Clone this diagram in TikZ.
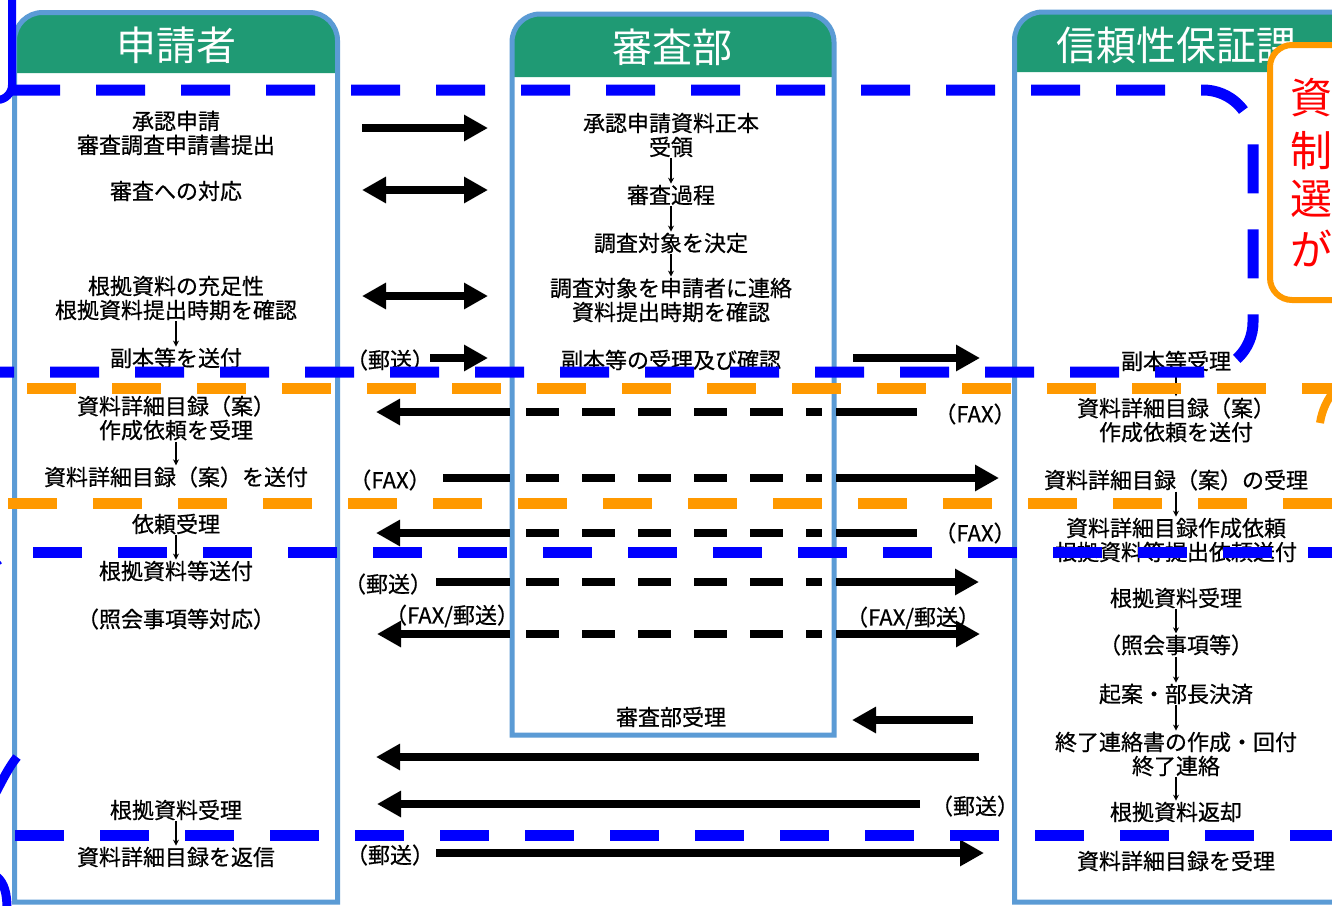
\documentclass[tikz,border=0pt]{standalone}
\usepackage{fontspec}
\setmainfont{Noto Sans CJK JP}
\newfontfamily\bodyfont[FakeBold=0.6]{Noto Sans CJK JP}
\usetikzlibrary{arrows.meta}
\definecolor{hdr}{HTML}{1F9A74}
\definecolor{bord}{HTML}{5B9BD5}
\definecolor{pureblue}{HTML}{0000FF}
\definecolor{orng}{HTML}{FF9900}
\definecolor{redtxt}{HTML}{FF0000}
\begin{document}
\begin{tikzpicture}[x=1pt,y=-1pt,
  box/.style={draw=bord, line width=5pt},
  hdrtxt/.style={text=white, font=\fontsize{40}{44}\selectfont, inner sep=0pt},
  txt/.style={font=\bodyfont\fontsize{22}{24}\selectfont, align=center, inner sep=0pt},
  lbl/.style={font=\bodyfont\fontsize{22}{24}\selectfont, inner sep=0pt},
  fatR/.style={line width=8pt, -{Triangle[length=24pt,width=25pt]}},
  fatLR/.style={line width=8pt, {Triangle[length=24pt,width=25pt]}-{Triangle[length=24pt,width=25pt]}},
  fatline/.style={line width=8pt},
  fatdash/.style={line width=8pt, dash pattern=on 33pt off 23pt},
  down/.style={line width=1.3pt, -{Stealth[length=6pt,width=6pt]}, shorten <=1pt, shorten >=1pt},
  bluedash/.style={draw=pureblue, line width=11pt, dash pattern=on 49pt off 36pt},
  orangedash/.style={draw=orng, line width=11pt, dash pattern=on 49pt off 36pt},
  redch/.style={anchor=west, text=redtxt, font=\fontsize{42}{50}\selectfont, inner sep=0pt}]
\useasboundingbox (0,0) rectangle (1332,905);
\fill[white] (0,0) rectangle (1332,905);

% column boxes
\fill[hdr] (14.5,73) [rounded corners=28pt] -- (14.5,12.5) -- (337.5,12.5) [sharp corners] -- (337.5,73) -- cycle;
\draw[box] (14.5,902) [rounded corners=28pt] -- (14.5,12.5) -- (337.5,12.5) [sharp corners] -- (337.5,902) -- cycle;
\fill[hdr] (512,77) [rounded corners=28pt] -- (512,14) -- (834,14) [sharp corners] -- (834,77) -- cycle;
\draw[box] (512,735) [rounded corners=28pt] -- (512,14) -- (834,14) [sharp corners] -- (834,735) -- cycle;
\fill[hdr] (1014.5,72) [rounded corners=28pt] -- (1014.5,12) -- (1380,12) [sharp corners] -- (1380,72) -- cycle;
\draw[box] (1014.5,902) [rounded corners=28pt] -- (1014.5,12) -- (1380,12) [sharp corners] -- (1380,902) -- cycle;

\node[hdrtxt] (hL) at (176,45) {申請者};
\node[hdrtxt] (hM) at (672,47) {審査部};
\node[hdrtxt] (hR) at (1176,45) {信頼性保証課};

% orange note box
\draw[draw=orng, line width=6pt, fill=white, rounded corners=22pt] (1270,45) rectangle (1390,300);
\node[redch] (r1) at (1290,98) {資};
\node[redch] (r2) at (1290,151) {制};
\node[redch] (r3) at (1290,199) {選};
\node[redch] (r4) at (1290,248) {が};

% left column
\node[txt] (L1) at (176,133) {承認申請\\審査調査申請書提出};
\node[txt] (L2) at (176,191) {審査への対応};
\node[txt] (L3) at (176,298) {根拠資料の充足性\\根拠資料提出時期を確認};
\node[txt] (L4) at (176,358) {副本等を送付};
\node[txt] (L5) at (176,418) {資料詳細目録（案）\\作成依頼を受理};
\node[txt] (L6) at (176,477) {資料詳細目録（案）を送付};
\node[txt] (L7) at (176,524) {依頼受理};
\node[txt] (L8) at (176,571) {根拠資料等送付};
\node[txt] (L9) at (176,619) {（照会事項等対応）};
\node[txt] (L10) at (176,810) {根拠資料受理};
\node[txt] (L11) at (176,857) {資料詳細目録を返信};
\draw[down] (L3) -- (L4);
\draw[down] (L5) -- (L6);
\draw[down] (L7) -- (L8);
\draw[down] (L10) -- (L11);

% middle column
\node[txt] (M1) at (671,135) {承認申請資料正本\\受領};
\node[txt] (M2) at (671,195) {審査過程};
\node[txt] (M3) at (671,243) {調査対象を決定};
\node[txt] (M4) at (671,300) {調査対象を申請者に連絡\\資料提出時期を確認};
\node[txt] (M5) at (671,360) {副本等の受理及び確認};
\node[txt] (M6) at (671,717) {審査部受理};
\draw[down] (M1) -- (M2);
\draw[down] (M2) -- (M3);
\draw[down] (M3) -- (M4);

% right column
\node[txt] (R1) at (1176,361) {副本等受理};
\node[txt] (R2) at (1176,420) {資料詳細目録（案）\\作成依頼を送付};
\node[txt] (R3) at (1176,480) {資料詳細目録（案）の受理};
\node[txt] (R4) at (1176,540) {資料詳細目録作成依頼\\根拠資料等提出依頼送付};
\node[txt] (R5) at (1176,598) {根拠資料受理};
\node[txt] (R6) at (1176,645) {（照会事項等）};
\node[txt] (R7) at (1176,694) {起案・部長決済};
\node[txt] (R8) at (1176,754) {終了連絡書の作成・回付\\終了連絡};
\node[txt] (R9) at (1176,812) {根拠資料返却};
\node[txt] (R10) at (1176,861) {資料詳細目録を受理};
\draw[down] (R1) -- (R2);
\draw[down] (R3) -- (R4);
\draw[down] (R5) -- (R6);
\draw[down] (R6) -- (R7);
\draw[down] (R7) -- (R8);
\draw[down] (R8) -- (R9);

% labels
\node[lbl] (p1) at (390,360) {（郵送）};
\node[lbl] (f1) at (975,414) {（FAX）};
\node[lbl] (f2) at (390,480) {（FAX）};
\node[lbl] (f3) at (975,533) {（FAX）};
\node[lbl] (p2) at (388,584) {（郵送）};
\node[lbl] (fp1) at (452,616) {（FAX/郵送）};
\node[lbl] (fp2) at (913,618) {（FAX/郵送）};
\node[lbl] (p3) at (975,806) {（郵送）};
\node[lbl] (p4) at (390,855) {（郵送）};

% arrows
\coordinate (a1s) at (362,128); \coordinate (a1e) at (488,128);
\draw[fatR] (a1s) -- (a1e);
\coordinate (a2s) at (362,190); \coordinate (a2e) at (488,190);
\draw[fatLR] (a2s) -- (a2e);
\coordinate (a3s) at (362,296); \coordinate (a3e) at (488,296);
\draw[fatLR] (a3s) -- (a3e);
\coordinate (a4s) at (430,358); \coordinate (a4e) at (488,358);
\draw[fatR] (a4s) -- (a4e);
\coordinate (a5s) at (853,358); \coordinate (a5e) at (980,358);
\draw[fatR] (a5s) -- (a5e);

\coordinate (e1) at (917,412); \coordinate (e2) at (836,412); \coordinate (e3) at (822,412);
\coordinate (e4) at (526,412); \coordinate (e5) at (510,412); \coordinate (e6) at (376,412);
\draw[fatline] (e1) -- (e2); \draw[fatdash] (e4) -- (e3); \draw[fatR] (e5) -- (e6);

\coordinate (g1) at (443,478); \coordinate (g2) at (510,478); \coordinate (g3) at (526,478);
\coordinate (g4) at (822,478); \coordinate (g5) at (836,478); \coordinate (g6) at (999,478);
\draw[fatline] (g1) -- (g2); \draw[fatdash] (g3) -- (g4); \draw[fatR] (g5) -- (g6);

\coordinate (h1) at (917,533); \coordinate (h2) at (836,533); \coordinate (h3) at (822,533);
\coordinate (h4) at (526,533); \coordinate (h5) at (510,533); \coordinate (h6) at (376,533);
\draw[fatline] (h1) -- (h2); \draw[fatdash] (h4) -- (h3); \draw[fatR] (h5) -- (h6);

\coordinate (i1) at (436,582); \coordinate (i2) at (510,582); \coordinate (i3) at (526,582);
\coordinate (i4) at (822,582); \coordinate (i5) at (836,582); \coordinate (i6) at (979,582);
\draw[fatline] (i1) -- (i2); \draw[fatdash] (i3) -- (i4); \draw[fatR] (i5) -- (i6);

\coordinate (j1) at (510,634); \coordinate (j2) at (377,634); \coordinate (j3) at (526,634);
\coordinate (j4) at (822,634); \coordinate (j5) at (836,634); \coordinate (j6) at (980,634);
\draw[fatR] (j1) -- (j2); \draw[fatdash] (j3) -- (j4); \draw[fatR] (j5) -- (j6);

\coordinate (k1) at (973,720); \coordinate (k2) at (852,720);
\draw[fatR] (k1) -- (k2);
\coordinate (m1) at (979,757); \coordinate (m2) at (376,757);
\draw[fatR] (m1) -- (m2);
\coordinate (n1) at (920,804); \coordinate (n2) at (377,804);
\draw[fatR] (n1) -- (n2);
\coordinate (o1) at (436,853); \coordinate (o2) at (984,853);
\draw[fatR] (o1) -- (o2);

% dashed zone lines
\draw[bluedash] (11,90) [rounded corners=50pt] -- (1253,90) -- (1253,372) -- (-80,372);
\draw[draw=pureblue, line width=8pt] (12,-5) -- (12,85) .. controls (12,93.3) and (5.3,100) .. (-3,100) -- (-10,100);
\draw[bluedash] (33,552) -- (1350,552);
\draw[draw=pureblue, line width=3pt] (-3,565) -- (1,562);
\draw[bluedash] (15,835) -- (1350,835);
\draw[draw=pureblue, line width=9pt] (-8,800) .. controls (0,785) and (8,768) .. (17,757);
\draw[draw=pureblue, line width=9pt] (-3,877) .. controls (4,883) and (7,893) .. (7,908);
\draw[orangedash] (27,388) -- (1350,388);
\draw[orangedash] (8,503) -- (1350,503);
\draw[draw=orng, line width=8pt] (1334,391) .. controls (1327,400) and (1322,410) .. (1320,423);
\end{tikzpicture}
\end{document}
